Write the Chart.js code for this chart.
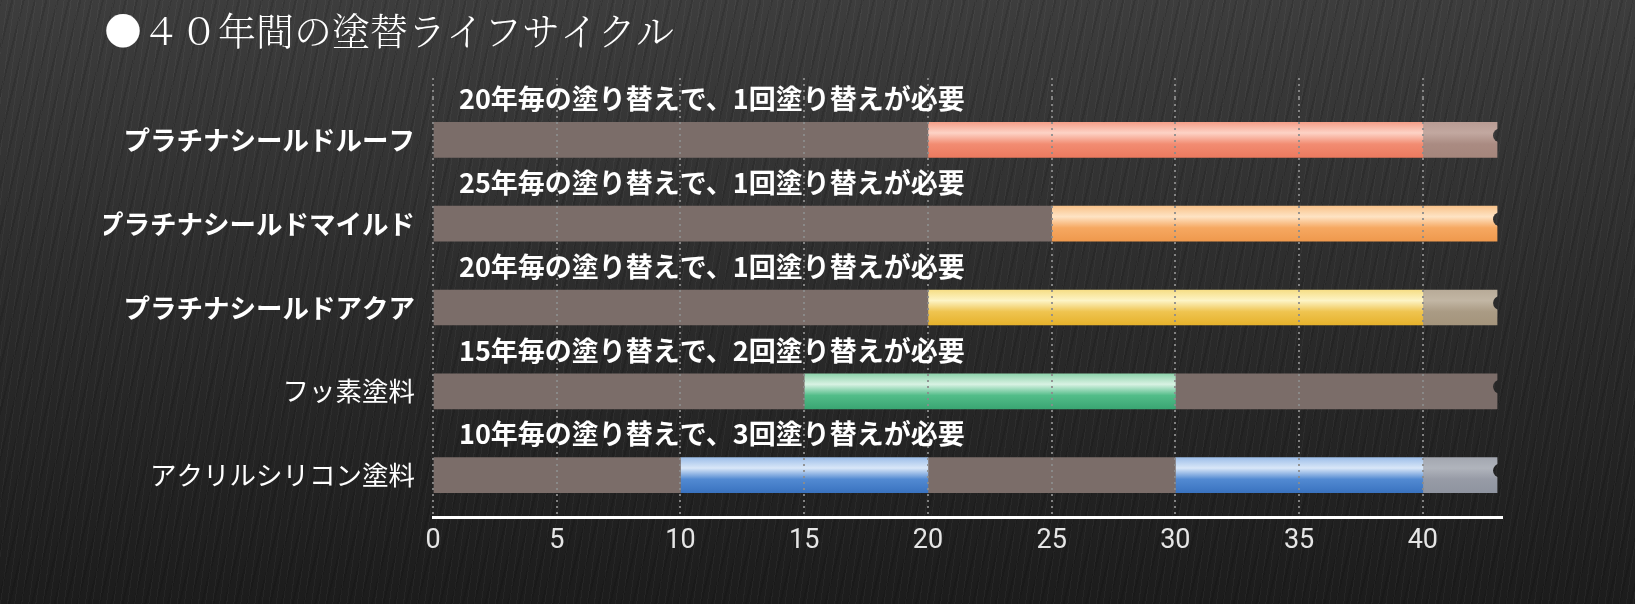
<!DOCTYPE html>
<html lang="ja">
<head>
<meta charset="utf-8">
<title>40年間の塗替ライフサイクル</title>
<script src="https://cdn.jsdelivr.net/npm/chart.js@4.4.1/dist/chart.umd.min.js"></script>
<style>
    html, body {
        margin: 0;
        padding: 0;
        width: 1635px;
        height: 604px;
        overflow: hidden;
    }
    body {
        background:
            repeating-linear-gradient(98deg, rgba(255,255,255,0.035) 0 1px, rgba(0,0,0,0) 1px 7px),
            repeating-linear-gradient(104deg, rgba(0,0,0,0.12) 0 2px, rgba(0,0,0,0) 2px 11px),
            linear-gradient(180deg, #3d3d3d 0%, #2d2d2d 45%, #1c1c1c 100%);
    }
    #chart {
        display: block;
    }
</style>
</head>
<body>
<canvas id="chart" width="1635" height="604"></canvas>
<script>
// 塗料
const categories = [
    "プラチナシールドルーフ",
    "プラチナシールドマイルド",
    "プラチナシールドアクア",
    "フッ素塗料",
    "アクリルシリコン塗料"
];

// バーの上のコメント
const notes = [
    "20年毎の塗り替えで、1回塗り替えが必要",
    "25年毎の塗り替えで、1回塗り替えが必要",
    "20年毎の塗り替えで、1回塗り替えが必要",
    "15年毎の塗り替えで、2回塗り替えが必要",
    "10年毎の塗り替えで、3回塗り替えが必要"
];

// 区間 [開始年, 終了年]
const firstCoat     = [[0, 20], [0, 25], [0, 20], [0, 15], [0, 10]];
const repaint1      = [[20, 40], [25, 43], [20, 40], [15, 30], [10, 20]];
const afterRepaint1 = [[40, 43], null, [40, 43], [30, 43], [20, 30]];
const repaint2      = [null, null, null, null, [30, 40]];
const afterRepaint2 = [null, null, null, null, [40, 43]];

// 横軸
const yearMin = 0;
const yearMax = 43.2;
const barEnd = 43;
const yearStep = 5;

document.addEventListener("DOMContentLoaded", function () {
    const JP = "'Noto Sans CJK JP', 'Noto Sans', sans-serif";

    // 色 (上の明るい色, ハイライト, 中間, 下)
    const palette = {
        base:       ["#7b6d69", "#7b6d69", "#7b6d69", "#7b6d69"],
        salmon:     ["#f5a08a", "#fdd3c6", "#f28c72", "#ec7a5f"],
        orange:     ["#f9c48c", "#fee3c4", "#f6a861", "#ef994d"],
        yellow:     ["#f6de86", "#fdf4c6", "#efc450", "#e6b22c"],
        green:      ["#8fd3ac", "#d8f2e3", "#52bd89", "#3aa673"],
        blue:       ["#9ebfe9", "#d9e7f8", "#528ad2", "#3a73c0"],
        tailSalmon: ["#b99c94", "#c2a8a0", "#aa8b82", "#a5867c"],
        tailYellow: ["#b8ab98", "#c2b6a4", "#aa9b84", "#a4947c"],
        tailBlue:   ["#a3a7b0", "#b0b4bc", "#979ba6", "#8f94a0"]
    };

    const styles = [
        ["base", "base", "base", "base", "base"],
        ["salmon", "orange", "yellow", "green", "blue"],
        ["tailSalmon", null, "tailYellow", "base", "base"],
        [null, null, null, null, "blue"],
        [null, null, null, null, "tailBlue"]
    ];

    const barThickness = 35;
    const gridColor = "rgba(140,140,140,0.9)";

    function glossColor(dsIndex) {
        return function (c) {
            const key = styles[dsIndex][c.dataIndex];
            const col = palette[key] || palette.base;
            const chart = c.chart;
            if (!chart.chartArea || !chart.scales.y) {
                return col[2];
            }
            const yc = chart.scales.y.getPixelForValue(c.dataIndex);
            const top = yc - barThickness / 2;
            const g = chart.ctx.createLinearGradient(0, top, 0, top + barThickness);
            g.addColorStop(0, col[0]);
            g.addColorStop(0.3, col[1]);
            g.addColorStop(0.62, col[2]);
            g.addColorStop(1, col[3]);
            return g;
        };
    }

    const segments = [firstCoat, repaint1, afterRepaint1, repaint2, afterRepaint2];
    const datasets = segments.map((seg, i) => ({
        label: "区間" + (i + 1),
        data: seg,
        backgroundColor: glossColor(i),
        borderWidth: 0,
        borderSkipped: false,
        grouped: false,
        barThickness: barThickness
    }));

    // 右端の切れ目 (バーを少し削る)
    const breakPlugin = {
        id: "breakMark",
        afterDatasetsDraw(chart) {
            const { ctx, scales } = chart;
            ctx.save();
            ctx.globalCompositeOperation = "destination-out";
            categories.forEach((cat, i) => {
                const yc = scales.y.getPixelForValue(i);
                const xe = scales.x.getPixelForValue(barEnd);
                ctx.beginPath();
                ctx.arc(xe + 3, yc - barThickness / 2 + 13, 7, 0, Math.PI * 2);
                ctx.fill();
            });
            ctx.restore();
        }
    };

    // バー上のコメント
    const notesPlugin = {
        id: "notes",
        afterDraw(chart) {
            const { ctx, scales } = chart;
            ctx.save();
            ctx.fillStyle = "#ffffff";
            ctx.font = "bold 27px " + JP;
            ctx.textAlign = "left";
            ctx.textBaseline = "middle";
            notes.forEach((txt, i) => {
                const yc = scales.y.getPixelForValue(i);
                ctx.fillText(txt, scales.x.getPixelForValue(1.05), yc - 41);
            });
            ctx.restore();
        }
    };

    const ctx = document.getElementById("chart").getContext("2d");
    new Chart(ctx, {
        type: "bar",
        data: {
            labels: categories,
            datasets: datasets
        },
        plugins: [breakPlugin, notesPlugin],
        options: {
            indexAxis: "y",
            responsive: false,
            animation: false,
            devicePixelRatio: 1,
            layout: {
                padding: { left: 104, right: 133, top: 0, bottom: 0 }
            },
            plugins: {
                legend: { display: false },
                tooltip: { enabled: false },
                title: {
                    display: true,
                    text: "●４０年間の塗替ライフサイクル",
                    align: "start",
                    color: "#ffffff",
                    font: { family: "'Noto Serif CJK JP', " + JP, size: 38, weight: "300" },
                    padding: { top: 8, bottom: 24.4 }
                }
            },
            scales: {
                x: {
                    type: "linear",
                    position: "bottom",
                    min: yearMin,
                    max: yearMax,
                    grid: {
                        z: 1,
                        color: gridColor,
                        lineWidth: 2,
                        drawTicks: false
                    },
                    border: {
                        display: true,
                        color: "#ffffff",
                        width: 3,
                        dash: [2, 4],
                        z: 1
                    },
                    ticks: {
                        stepSize: yearStep,
                        includeBounds: false,
                        color: "#e6e6e6",
                        padding: 8,
                        font: { family: "'Liberation Sans Narrow', Roboto, sans-serif", size: 27 }
                    },
                    afterFit(scale) {
                        scale.height = 87;
                    }
                },
                x2: {
                    type: "linear",
                    position: "top",
                    min: yearMin,
                    max: yearMax,
                    grid: {
                        drawOnChartArea: false,
                        drawTicks: true,
                        tickLength: 20,
                        color: gridColor,
                        lineWidth: 2,
                        tickBorderDash: [2, 4]
                    },
                    border: { display: false },
                    ticks: {
                        display: false,
                        stepSize: yearStep,
                        includeBounds: false
                    },
                    afterFit(scale) {
                        scale.height = 20;
                    }
                },
                y: {
                    grid: { display: false, drawTicks: false },
                    border: { display: false },
                    ticks: {
                        color: "#ffffff",
                        padding: 18,
                        font: (c) => ({
                            family: JP,
                            size: 26.5,
                            weight: c.index < 3 ? "bold" : "normal"
                        })
                    },
                    afterFit(scale) {
                        scale.width = 329;
                    }
                }
            }
        }
    });
});
</script>
</body>
</html>
